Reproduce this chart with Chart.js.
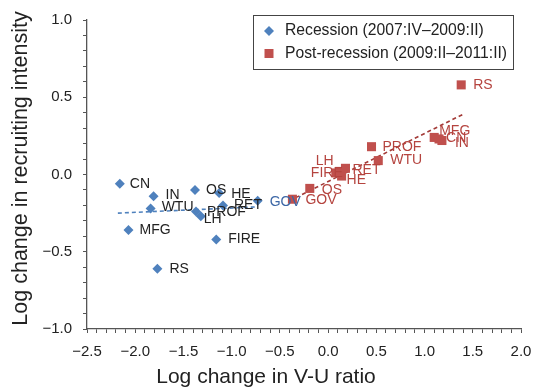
<!DOCTYPE html>
<html>
<head>
<meta charset="utf-8">
<script src="https://cdn.jsdelivr.net/npm/chart.js@4.4.1/dist/chart.umd.min.js"></script>
<style>
  html, body { margin: 0; padding: 0; background: #fff; }
  #wrap { width: 538px; height: 387px; position: relative; }
</style>
</head>
<body>
<div id="wrap"><canvas id="chart"></canvas></div>
<script>
const FONT = "'Liberation Sans', Arial, Helvetica, sans-serif";

// industries, same order for both periods
const industries = ['CN', 'IN', 'OS', 'HE', 'WTU', 'PROF', 'LH', 'RET', 'GOV', 'MFG', 'FIRE', 'RS'];

// Recession (2007:IV-2009:II)
const recessionX = [-2.16, -1.81, -1.38, -1.13, -1.84, -1.37, -1.32, -1.09, -0.73, -2.07, -1.16, -1.77];
const recessionY = [-0.06, -0.14, -0.10, -0.12, -0.22, -0.24, -0.27, -0.20, -0.17, -0.36, -0.42, -0.61];

// Post-recession (2009:II-2011:II)
const postX = [1.15, 1.18, -0.19, 0.14, 0.52, 0.45, 0.12, 0.18, -0.37, 1.10, 0.08, 1.38];
const postY = [0.23, 0.22, -0.09, -0.01, 0.09, 0.18, 0.02, 0.04, -0.16, 0.24, 0.01, 0.58];

// dashed fit lines, end points
const recessionFitX = [-2.18, -0.75];
const recessionFitY = [-0.25, -0.21];
const postFitX = [-0.40, 1.40];
const postFitY = [-0.17, 0.39];

const xMajorTicks = [-2.5, -2.0, -1.5, -1.0, -0.5, 0.0, 0.5, 1.0, 1.5, 2.0];
const yMajorTicks = [-1.0, -0.5, 0.0, 0.5, 1.0];

const xTitle = 'Log change in V-U ratio';
const yTitle = 'Log change in recruiting intensity';

// where each label sits relative to its marker (px), same order as industries
const recessionLabelOffset = [[10, 0], [12, -1], [11, 0], [12, 1], [11, -1], [11, 1], [3, 3], [11, 0], [12, 1], [11, 0], [12, 0], [12, 0]];
const postLabelOffset = [[7, -1], [13, 3], [12, 2], [5, 4], [12, 0], [11, 0], [-24, -10], [7, 2], [13, 1], [5, -6], [-25, 0], [12, 0]];

const BLUE = '#4F81BD';
const RED = '#C0504D';

function toPoints(xs, ys) {
    return xs.map((x, i) => ({ x: x, y: ys[i] }));
}

function tickFormatter(majors) {
    return function(value) {
        const r = Math.round(value * 10) / 10;
        if (!majors.some(m => Math.abs(m - r) < 1e-9)) return '';
        return (r < 0 ? '\u2212' : '') + Math.abs(r).toFixed(1);
    };
}

// text labels next to the markers
const pointLabels = {
    id: 'pointLabels',
    afterDatasetsDraw(chart) {
        const ctx = chart.ctx;
        ctx.save();
        ctx.font = '14px ' + FONT;
        ctx.textAlign = 'left';
        ctx.textBaseline = 'middle';
        const sets = [
            { idx: 0, offsets: recessionLabelOffset, color: i => industries[i] === 'GOV' ? '#3C67A6' : '#222' },
            { idx: 1, offsets: postLabelOffset, color: () => '#B5443F' }
        ];
        sets.forEach(s => {
            const meta = chart.getDatasetMeta(s.idx);
            meta.data.forEach((pt, i) => {
                const off = s.offsets[i];
                ctx.fillStyle = s.color(i);
                ctx.fillText(industries[i], pt.x + off[0], pt.y + off[1]);
            });
        });
        ctx.restore();
    }
};

// axis titles: the original centres them on the figure, not on the plot
const axisTitles = {
    id: 'axisTitles',
    afterDraw(chart) {
        const ctx = chart.ctx;
        const area = chart.chartArea;
        ctx.save();
        ctx.fillStyle = '#222';
        ctx.textAlign = 'center';
        ctx.textBaseline = 'middle';
        ctx.font = '21px ' + FONT;
        ctx.fillText(xTitle, chart.width / 2 - 3, chart.height - 10);
        ctx.translate(21, (area.top + area.bottom) / 2 - 6);
        ctx.rotate(-Math.PI / 2);
        ctx.font = '21.5px ' + FONT;
        ctx.fillText(yTitle, 0, 0);
        ctx.restore();
    }
};

// boxed legend in the top right corner of the plot
const boxLegend = {
    id: 'boxLegend',
    afterDraw(chart) {
        const ctx = chart.ctx;
        const area = chart.chartArea;
        const left = area.right - 268, top = area.top - 5, w = 260, h = 54;
        ctx.save();
        ctx.strokeStyle = '#444';
        ctx.lineWidth = 1;
        ctx.strokeRect(Math.round(left) + 0.5, Math.round(top) + 0.5, w, h);
        ctx.font = '15.7px ' + FONT;
        ctx.textBaseline = 'middle';
        [0, 1].forEach(k => {
            const ds = chart.data.datasets[k];
            const cy = top + 16 + k * 22.5;
            const cx = left + 16;
            ctx.fillStyle = ds.backgroundColor;
            ctx.beginPath();
            if (ds.pointStyle === 'rectRot') {
                ctx.moveTo(cx, cy - 5);
                ctx.lineTo(cx + 5, cy);
                ctx.lineTo(cx, cy + 5);
                ctx.lineTo(cx - 5, cy);
                ctx.closePath();
            } else {
                ctx.rect(cx - 4.5, cy - 4.5, 9, 9);
            }
            ctx.fill();
            ctx.fillStyle = '#222';
            ctx.fillText(ds.label, cx + 16, cy);
        });
        ctx.restore();
    }
};

new Chart(document.getElementById('chart'), {
    type: 'scatter',
    data: {
        datasets: [
            {
                label: 'Recession (2007:IV\u20132009:II)',
                data: toPoints(recessionX, recessionY),
                pointStyle: 'rectRot',
                pointRadius: 5,
                backgroundColor: BLUE,
                borderColor: BLUE,
                borderWidth: 0
            },
            {
                label: 'Post-recession (2009:II\u20132011:II)',
                data: toPoints(postX, postY),
                pointStyle: 'rect',
                pointRadius: 6.4,
                backgroundColor: RED,
                borderColor: RED,
                borderWidth: 0
            },
            {
                label: 'Recession fit',
                data: toPoints(recessionFitX, recessionFitY),
                showLine: true,
                pointRadius: 0,
                borderColor: BLUE,
                borderWidth: 1.6,
                borderDash: [4, 3]
            },
            {
                label: 'Post-recession fit',
                data: toPoints(postFitX, postFitY),
                showLine: true,
                pointRadius: 0,
                borderColor: '#A33A37',
                borderWidth: 1.6,
                borderDash: [4, 3]
            }
        ]
    },
    options: {
        responsive: true,
        maintainAspectRatio: false,
        animation: false,
        layout: { padding: { top: 20, right: 17, left: 0, bottom: 0 } },
        plugins: {
            legend: { display: false },
            tooltip: { enabled: false }
        },
        scales: {
            x: {
                type: 'linear',
                min: -2.5,
                max: 2.0,
                border: { color: '#555', width: 1.3 },
                grid: { drawOnChartArea: false, tickLength: 4, tickColor: '#555', tickWidth: 1 },
                ticks: {
                    stepSize: 0.1,
                    autoSkip: false,
                    maxRotation: 0,
                    padding: 10,
                    color: '#222',
                    font: { size: 15, family: FONT },
                    callback: tickFormatter(xMajorTicks)
                },
                afterFit(scale) {
                    scale.height = 58;
                    scale.paddingRight = 12;
                }
            },
            y: {
                type: 'linear',
                min: -1.0,
                max: 1.0,
                border: { color: '#555', width: 1.3 },
                grid: { drawOnChartArea: false, tickLength: 4, tickColor: '#555', tickWidth: 1 },
                ticks: {
                    stepSize: 0.1,
                    autoSkip: false,
                    padding: 11,
                    color: '#222',
                    font: { size: 15, family: FONT },
                    callback: tickFormatter(yMajorTicks)
                },
                afterFit(scale) { scale.width = 87; }
            }
        }
    },
    plugins: [pointLabels, axisTitles, boxLegend]
});
</script>
</body>
</html>
